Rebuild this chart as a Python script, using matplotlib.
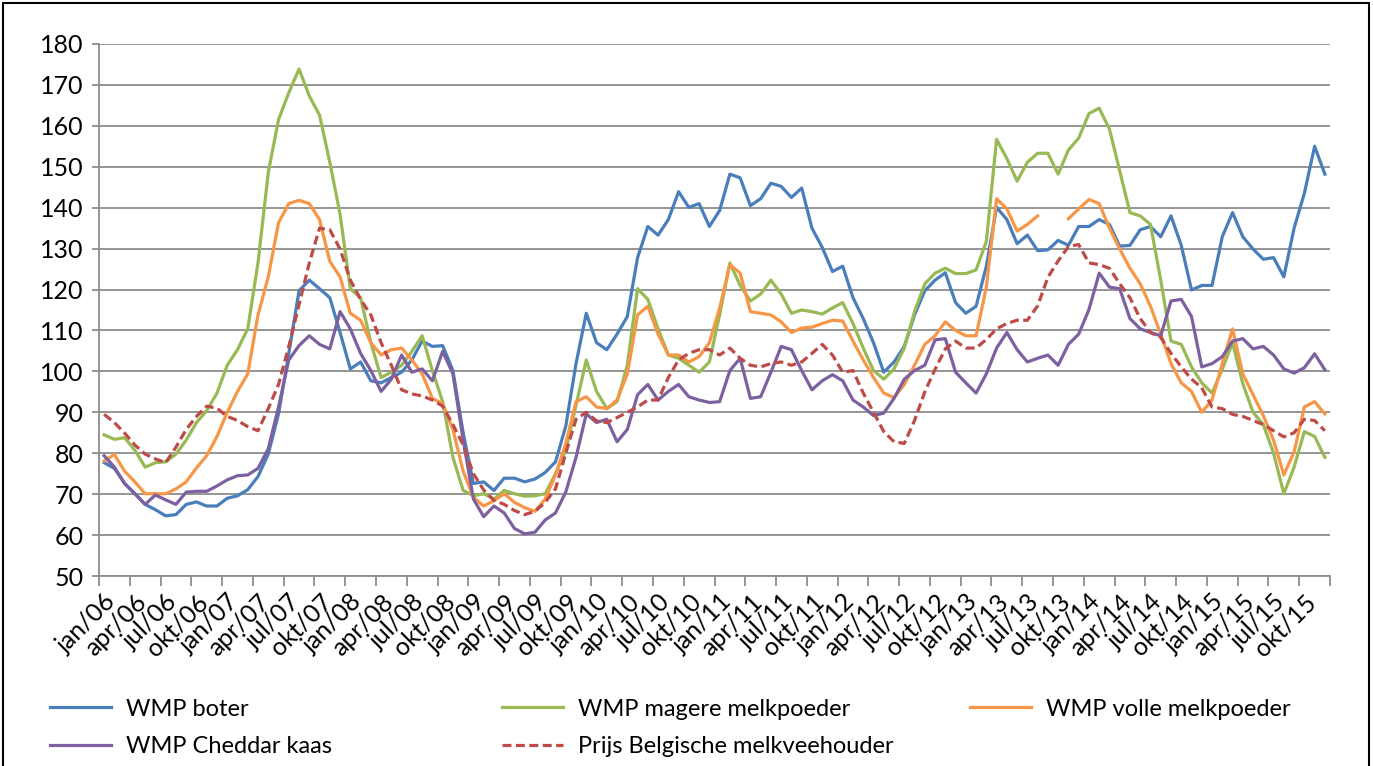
import numpy as np
import matplotlib
matplotlib.use("Agg")
import matplotlib.pyplot as plt
from matplotlib.patches import Rectangle

plt.rcParams['font.family'] = ['Lato', 'DejaVu Sans']

# monthly data jan/06 .. dec/15 (12 values per row = one year)
wmp_boter = [
    77.7, 76.3, 72.6, 70.1, 67.5, 66.2, 64.7, 65.0, 67.5, 68.1, 67.1, 67.1,
    69.0, 69.6, 71.1, 74.3, 79.8, 89.6, 104.4, 119.7, 122.3, 120.2, 118.0, 109.5,
    100.6, 102.3, 97.7, 97.2, 98.5, 99.8, 102.8, 107.4, 106.1, 106.3, 100.2, 85.0,
    72.6, 73.0, 70.9, 73.9, 73.9, 73.0, 73.7, 75.3, 77.9, 86.6, 101.9, 114.2,
    107.0, 105.3, 109.1, 113.4, 127.8, 135.4, 133.3, 137.1, 143.9, 140.1, 141.0, 135.4,
    139.3, 148.2, 147.3, 140.5, 142.2, 146.0, 145.2, 142.5, 144.8, 135.0, 130.3, 124.4,
    125.7, 118.0, 112.9, 107.0, 99.8, 102.3, 106.1, 113.8, 119.7, 122.3, 124.1, 116.8,
    114.2, 115.9, 125.7, 140.1, 137.1, 131.2, 133.3, 129.5, 129.7, 132.0, 130.8, 135.4,
    135.4, 137.1, 135.9, 130.6, 130.8, 134.6, 135.4, 132.9, 138.0, 130.8, 119.9, 121.0,
    121.0, 132.9, 138.8, 132.9, 129.9, 127.4, 127.8, 123.1, 135.0, 143.5, 155.0, 148.2,
]
wmp_mager = [
    84.5, 83.4, 83.8, 80.7, 76.6, 77.7, 77.9, 79.8, 83.2, 87.5, 90.4, 94.7,
    101.5, 105.3, 110.4, 126.5, 148.6, 161.5, 168.1, 173.9, 167.3, 162.6, 151.1, 138.4,
    120.2, 118.0, 107.0, 98.5, 99.8, 101.5, 104.9, 108.7, 100.2, 92.6, 79.0, 70.9,
    69.6, 70.1, 68.8, 70.9, 70.1, 69.5, 69.6, 70.1, 75.0, 80.7, 91.7, 102.8,
    95.1, 90.9, 92.6, 101.5, 120.2, 117.6, 110.4, 104.0, 103.2, 101.5, 99.8, 102.3,
    113.8, 126.5, 121.0, 117.2, 118.9, 122.3, 118.9, 114.2, 115.0, 114.6, 114.0, 115.5,
    116.8, 111.7, 105.7, 100.2, 98.1, 100.6, 105.7, 114.6, 121.4, 124.0, 125.2, 123.9,
    123.9, 124.8, 131.8, 156.7, 152.0, 146.5, 151.1, 153.3, 153.3, 148.2, 154.1, 157.0,
    163.0, 164.3, 159.2, 149.0, 138.8, 138.0, 135.9, 122.3, 107.4, 106.6, 101.1, 97.2,
    94.7, 100.5, 107.0, 97.0, 90.0, 87.0, 80.0, 70.1, 76.6, 85.3, 84.1, 79.0,
]
wmp_vol = [
    78.1, 79.7, 75.6, 73.0, 70.1, 70.1, 70.1, 71.3, 73.0, 76.4, 79.4, 84.1,
    90.0, 95.1, 99.4, 113.8, 123.1, 136.3, 141.0, 141.8, 141.0, 137.1, 126.9, 123.1,
    114.2, 112.5, 107.0, 104.0, 105.3, 105.7, 102.8, 99.4, 93.4, 92.1, 85.8, 75.6,
    69.2, 67.1, 68.4, 70.1, 68.0, 66.7, 65.8, 68.8, 74.7, 82.4, 92.6, 93.8,
    91.3, 90.9, 93.0, 99.4, 113.8, 115.9, 109.1, 104.0, 104.0, 102.3, 103.6, 107.0,
    115.5, 126.1, 124.0, 114.6, 114.2, 113.8, 112.1, 109.5, 110.6, 110.8, 111.7, 112.5,
    112.3, 107.4, 102.8, 98.5, 94.7, 93.6, 96.8, 101.5, 106.6, 108.7, 112.1, 110.0,
    108.7, 108.7, 120.6, 142.2, 139.7, 134.3, 135.9, 138.0, np.nan, np.nan, 137.3, 139.7,
    142.0, 141.0, 135.0, 129.9, 125.2, 121.4, 115.9, 109.1, 101.9, 97.2, 95.1, 90.0,
    93.0, 101.9, 110.4, 99.4, 94.3, 89.2, 83.2, 74.7, 80.3, 91.3, 92.6, 89.6,
]
wmp_cheddar = [
    79.4, 76.6, 72.6, 70.1, 67.5, 69.8, 68.6, 67.5, 70.5, 70.7, 70.7, 72.0,
    73.5, 74.5, 74.7, 76.3, 81.1, 91.3, 102.8, 106.3, 108.7, 106.6, 105.5, 114.6,
    110.4, 104.4, 100.2, 95.1, 98.1, 104.0, 99.8, 100.6, 97.7, 104.9, 99.4, 83.2,
    68.8, 64.5, 67.1, 65.4, 61.6, 60.3, 60.7, 63.7, 65.4, 70.5, 79.0, 89.6,
    87.5, 88.3, 82.8, 85.8, 94.3, 96.8, 93.0, 95.1, 96.8, 93.8, 93.0, 92.4,
    92.6, 100.2, 103.2, 93.4, 93.8, 99.8, 106.1, 105.3, 100.2, 95.5, 97.7, 99.2,
    97.7, 93.0, 91.3, 89.2, 89.8, 93.4, 98.1, 100.2, 101.5, 107.7, 108.0, 99.8,
    97.2, 94.7, 99.4, 105.7, 109.5, 105.3, 102.3, 103.2, 104.0, 101.5, 106.6, 109.1,
    115.1, 124.0, 120.6, 120.2, 112.9, 110.4, 109.5, 108.7, 117.2, 117.6, 113.4, 101.1,
    101.9, 103.6, 107.4, 108.0, 105.5, 106.1, 104.0, 100.6, 99.6, 100.9, 104.3, 100.4,
]
prijs_boer = [
    89.5, 87.5, 84.9, 82.0, 79.8, 78.6, 77.7, 81.5, 85.8, 89.0, 91.5, 91.0,
    89.0, 88.0, 86.5, 85.5, 90.9, 96.8, 106.1, 116.3, 126.5, 135.0, 134.6, 129.9,
    122.3, 117.6, 113.8, 107.0, 101.5, 95.5, 94.5, 94.0, 93.0, 91.5, 87.0, 82.0,
    75.0, 71.0, 68.5, 67.5, 66.0, 65.0, 65.8, 68.0, 71.3, 80.0, 88.3, 90.0,
    87.9, 87.5, 88.7, 90.0, 91.3, 93.0, 93.0, 98.5, 102.8, 104.4, 105.3, 105.3,
    104.0, 105.7, 103.2, 101.5, 101.1, 101.9, 102.3, 101.5, 102.3, 104.4, 106.6, 104.0,
    99.8, 100.2, 94.7, 90.0, 85.3, 82.8, 82.4, 88.0, 95.0, 100.5, 105.5, 107.4,
    105.7, 105.7, 107.8, 110.4, 111.7, 112.5, 112.5, 116.0, 123.0, 127.0, 130.5, 131.0,
    126.5, 126.1, 125.2, 121.4, 118.0, 112.9, 109.5, 108.3, 104.4, 101.1, 98.1, 96.0,
    91.3, 90.9, 89.5, 89.0, 88.0, 87.0, 85.5, 84.0, 85.0, 88.3, 88.0, 85.5,
]

quarter_names = ['jan', 'apr', 'jul', 'okt']
years = ['06', '07', '08', '09', '10', '11', '12', '13', '14', '15']
tick_labels = [q + '/' + y for y in years for q in quarter_names]

series = [
    ('WMP boter', wmp_boter, '#4A7EBB', '-'),
    ('WMP magere melkpoeder', wmp_mager, '#98B954', '-'),
    ('WMP volle melkpoeder', wmp_vol, '#F79646', '-'),
    ('WMP Cheddar kaas', wmp_cheddar, '#7D60A0', '-'),
    ('Prijs Belgische melkveehouder', prijs_boer, '#BE4B48', (0, (2.8, 1.4))),
]

W, H = 1373, 766
fig = plt.figure(figsize=(W / 100, H / 100), dpi=100)
ax = fig.add_axes([99 / W, 1 - 576 / H, (1330 - 99) / W, (576 - 44) / H])

x = np.arange(len(wmp_boter))
lines = {}
for name, vals, col, ls in series:
    ln, = ax.plot(x, vals, color=col, lw=2.3, linestyle=ls, label=name,
                  solid_joinstyle='round', dash_capstyle='butt')
    lines[name] = ln

ax.set_xlim(-0.5, len(x) - 0.5)
ax.set_ylim(50, 180)
ax.set_yticks(np.arange(50, 181, 10))
ax.grid(axis='y', color='#8C8C8C', lw=1.3)
ax.set_axisbelow(True)

for s in ['top', 'right']:
    ax.spines[s].set_visible(False)
for s in ['left', 'bottom']:
    ax.spines[s].set_color('#8C8C8C')
    ax.spines[s].set_linewidth(1.3)

# labels on every third month, tick marks on the category boundaries
ax.set_xticks(np.arange(0, len(x), 3))
ax.set_xticklabels(tick_labels, rotation=45, ha='right', va='top',
                   rotation_mode='anchor', fontsize=18)
ax.tick_params(axis='x', which='major', length=0, pad=10)
ax.set_xticks(np.arange(-0.5, len(x), 3), minor=True)
ax.tick_params(axis='x', which='minor', length=7, width=1.3, color='#8C8C8C')
ax.tick_params(axis='y', length=5, width=1.3, color='#8C8C8C', labelsize=18, pad=6)

# legend: three groups placed like the original
leg_kw = dict(frameon=False, borderpad=0, borderaxespad=0, handlelength=2.6,
              handletextpad=0.62, labelspacing=0.7, fontsize=17)
groups = [
    (['WMP boter', 'WMP Cheddar kaas'], 50, 728),
    (['WMP magere melkpoeder', 'Prijs Belgische melkveehouder'], 502, 728),
    (['WMP volle melkpoeder'], 970, 709),
]
for names, lx, ly in groups:
    fig.legend([lines[n] for n in names], names, loc='center left',
               bbox_to_anchor=(lx / W, 1 - ly / H), **leg_kw)

# chart area border
fig.add_artist(Rectangle((3 / W, -0.05), (1369 - 3) / W, 1.05 - 3 / H,
                         transform=fig.transFigure, fill=False,
                         edgecolor='black', lw=1.5))

fig.savefig('out.png', dpi=100)
